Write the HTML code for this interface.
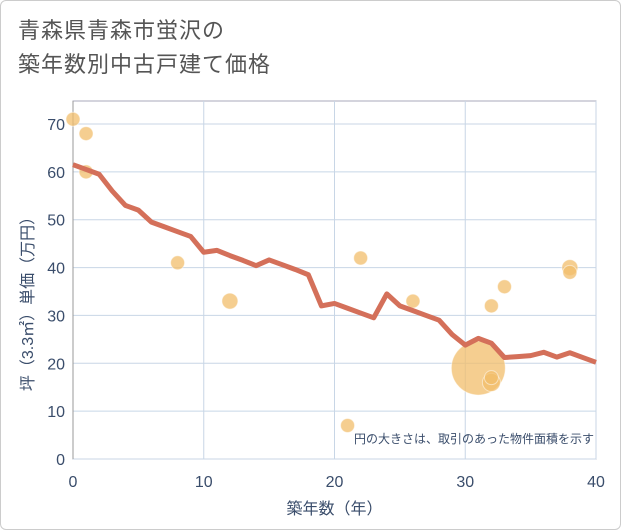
<!DOCTYPE html>
<html><head><meta charset="utf-8"><style>
body{margin:0;background:#fff;}
#wrap{position:relative;width:621px;height:530px;overflow:hidden;font-family:"Liberation Sans","Noto Sans CJK JP",sans-serif;}
#frame{position:absolute;left:0;top:0;width:619px;height:528px;border:1px solid #ccc;border-radius:6px;}
#title{position:absolute;left:18px;top:14px;font-size:22px;line-height:34px;color:#555;letter-spacing:1px;}
</style></head><body>
<div id="wrap">
<div id="frame"></div>
<div id="title">青森県青森市蛍沢の<br>築年数別中古戸建て価格</div>
<svg id="chart" width="621" height="530" style="position:absolute;left:0;top:0"></svg>
</div>
<script>
const lineYears=[0,1,2,3,4,5,6,7,8,9,10,11,12,13,14,15,16,17,18,19,20,21,22,23,24,25,26,27,28,29,30,31,32,33,34,35,36,37,38,39,40];
const linePrices=[61.5,60.5,59.5,56,53,52,49.5,48.5,47.5,46.5,43.2,43.6,42.5,41.5,40.4,41.6,40.6,39.6,38.5,32,32.5,31.5,30.5,29.5,34.5,32,31,30,29,26,23.8,25.2,24.2,21.2,21.4,21.6,22.3,21.3,22.2,21.2,20.2];
const dotYears=[0,1,1,8,12,21,22,26,31,32,32,32,33,38,38];
const dotPrices=[71,68,60,41,33,7,42,33,19,16,17,32,36,40,39];
const dotSizes=[7,7,7,7,8,7,7,7,27,9,7,7,7,8,7];
const xTicks=[0,10,20,30,40];
const yTicks=[0,10,20,30,40,50,60,70];
const X0=73,X1=596,Y0=459,Y70=124;
const xs=v=>X0+(X1-X0)*v/40;
const ys=v=>Y0-(Y0-Y70)*v/70;
const NS="http://www.w3.org/2000/svg";
const svg=document.getElementById('chart');
function mk(t,a){const e=document.createElementNS(NS,t);for(const k in a)e.setAttribute(k,a[k]);svg.appendChild(e);return e;}
let e;
e=mk('rect',{x:X0,y:101,width:X1-X0,height:Y0-101,fill:'#fff',stroke:'#aab','stroke-width':1});

xTicks.forEach(v=>{
 e=mk('line',{x1:xs(v),x2:xs(v),y1:101,y2:Y0,stroke:'#c8d6e6','stroke-width':1});
 
 e=mk('text',{x:xs(v),y:487,'text-anchor':'middle','font-size':16,fill:'#3a4d6b'});e.textContent=v;
 
});
yTicks.forEach(v=>{
 e=mk('line',{x1:X0,x2:X1,y1:ys(v),y2:ys(v),stroke:'#c8d6e6','stroke-width':1});
 
 e=mk('text',{x:65,y:ys(v)+6,'text-anchor':'end','font-size':16,fill:'#3a4d6b'});e.textContent=v;
 
});
e=mk('line',{x1:X0,x2:X0,y1:101,y2:Y0,stroke:'#999','stroke-width':1});

dotYears.forEach((v,i)=>{
 e=mk('circle',{cx:xs(v),cy:ys(dotPrices[i]),r:dotSizes[i],fill:'#f2bd6b','fill-opacity':0.75,stroke:'#fff','stroke-opacity':0.5});
 
});
e=mk('polyline',{points:lineYears.map((v,i)=>xs(v)+','+ys(linePrices[i])).join(' '),fill:'none',stroke:'#d4705a','stroke-width':5,'stroke-linejoin':'round'});

e=mk('text',{x:594,y:443,'text-anchor':'end','font-size':12,fill:'#3a4d6b'});e.textContent='円の大きさは、取引のあった物件面積を示す';

e=mk('text',{x:(X0+X1)/2,y:514,'text-anchor':'middle','font-size':16,fill:'#3a4d6b'});e.textContent='築年数（年）';

e=mk('text',{x:0,y:0,'text-anchor':'middle','font-size':16,fill:'#3a4d6b',transform:'translate(33,300) rotate(-90)'});e.textContent='坪（3.3㎡）単価（万円）';

</script>
</body></html>
